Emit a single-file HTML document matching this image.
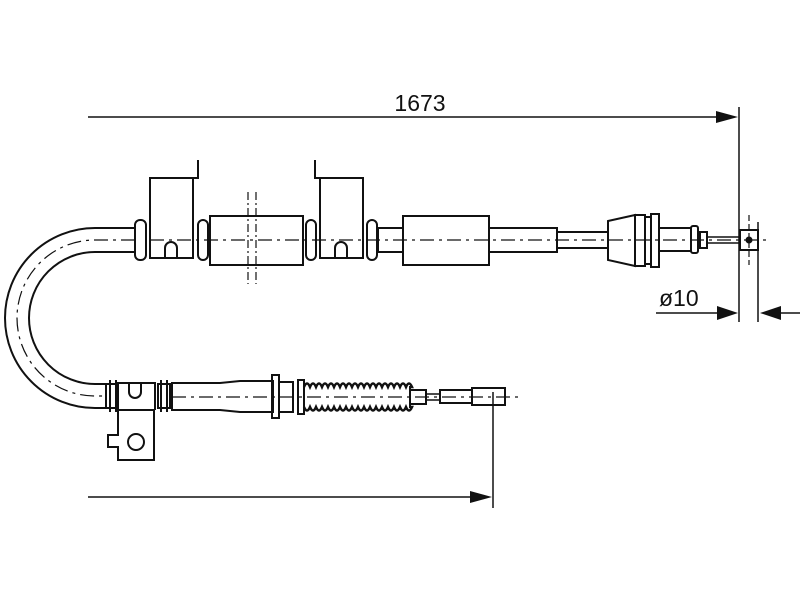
<!DOCTYPE html>
<html><head><style>body{margin:0;background:#fff}svg{display:block}</style></head><body>
<svg width="800" height="600" viewBox="0 0 800 600" xmlns="http://www.w3.org/2000/svg" fill="none" stroke="#111" stroke-width="2">
<line x1="88" y1="117" x2="720" y2="117" stroke-width="1.5"/>
<polygon points="738,117 716,111 716,123" fill="#111" stroke="none"/>
<text x="420" y="111" font-family="Liberation Sans, sans-serif" font-size="23" text-anchor="middle" fill="#111" stroke="none">1673</text>
<line x1="739" y1="107" x2="739" y2="322" stroke-width="1.5"/>
<line x1="758" y1="222" x2="758" y2="322" stroke-width="1.5"/>
<line x1="656" y1="313" x2="720" y2="313" stroke-width="1.5"/>
<polygon points="738,313 717,306 717,320" fill="#111" stroke="none"/>
<line x1="778" y1="313" x2="800" y2="313" stroke-width="1.5"/>
<polygon points="760,313 781,306 781,320" fill="#111" stroke="none"/>
<text x="659" y="306" font-family="Liberation Sans, sans-serif" font-size="23" fill="#111" stroke="none">ø10</text>
<path d="M135,228 H95 A90,90 0 0 0 95,408 H106"/>
<path d="M135,252 H95 A66,66 0 0 0 95,384 H106"/>
<path d="M135,240 H95 A78,78 0 0 0 95,396 H106" stroke-width="1.2" stroke-dasharray="14,5,3,5"/>
<rect x="135" y="220" width="11" height="40" rx="5"/>
<path d="M150,258 V178 H193 V258 Z M193,178 H198 V160"/>
<path d="M165,258 V248 A6,6 0 0 1 177,248 V258"/>
<rect x="198" y="220" width="10" height="40" rx="5"/>
<rect x="210" y="216" width="93" height="49"/>
<line x1="248" y1="192" x2="248" y2="284" stroke-width="1.2" stroke-dasharray="8,3,2,3"/>
<line x1="256" y1="192" x2="256" y2="284" stroke-width="1.2" stroke-dasharray="8,3,2,3"/>
<rect x="306" y="220" width="10" height="40" rx="5"/>
<path d="M320,258 V178 H363 V258 Z M320,178 H315 V160"/>
<path d="M335,258 V248 A6,6 0 0 1 347,248 V258"/>
<rect x="367" y="220" width="10" height="40" rx="5"/>
<rect x="378" y="228" width="25" height="24"/>
<rect x="403" y="216" width="86" height="49"/>
<rect x="489" y="228" width="68" height="24"/>
<rect x="557" y="232" width="51" height="16"/>
<path d="M608,221 L635,215 V266 L608,260 Z"/>
<rect x="635" y="215" width="10" height="51"/>
<rect x="645" y="217" width="6" height="47"/>
<rect x="651" y="214" width="8" height="53"/>
<rect x="659" y="228" width="32" height="23"/>
<rect x="691" y="226" width="7" height="27" rx="2"/>
<rect x="700" y="232" width="7" height="16"/>
<rect x="707" y="237" width="33" height="6" stroke-width="1.5"/>
<rect x="740" y="230" width="18" height="20"/>
<circle cx="749" cy="240" r="2.5" fill="#111"/>
<line x1="749" y1="215" x2="749" y2="265" stroke-width="1.2" stroke-dasharray="6,3"/>
<line x1="150" y1="240" x2="770" y2="240" stroke-width="1.2" stroke-dasharray="14,5,3,5"/>
<rect x="106" y="384" width="12" height="24"/>
<line x1="110" y1="380" x2="110" y2="412"/><line x1="116" y1="380" x2="116" y2="412"/>
<path d="M118,410 V383 H155 V410"/>
<path d="M129,383 V392 A6,6 0 0 0 141,392 V383"/>
<path d="M118,410 H154 V460 H118 V447 H108 V435 H118 Z"/>
<circle cx="136" cy="442" r="8"/>
<rect x="158" y="384" width="12" height="24"/>
<line x1="161" y1="380" x2="161" y2="412"/><line x1="167" y1="380" x2="167" y2="412"/>
<path d="M172,383 H220 L240,381 H273 V412 H240 L220,410 H172 Z"/>
<rect x="272" y="375" width="7" height="43"/>
<rect x="279" y="382" width="14" height="30"/>
<rect x="298" y="380" width="6" height="34"/>
<g stroke-width="2.5">
<path d="M304,387 q3,-7 6,0 q3,-7 6,0 q3,-7 6,0 q3,-7 6,0 q3,-7 6,0 q3,-7 6,0 q3,-7 6,0 q3,-7 6,0 q3,-7 6,0 q3,-7 6,0 q3,-7 6,0 q3,-7 6,0 q3,-7 6,0 q3,-7 6,0 q3,-7 6,0 q3,-7 6,0 q3,-7 6,0 q3,-7 6,0 L410,387"/>
<path d="M304,407 q3,7 6,0 q3,7 6,0 q3,7 6,0 q3,7 6,0 q3,7 6,0 q3,7 6,0 q3,7 6,0 q3,7 6,0 q3,7 6,0 q3,7 6,0 q3,7 6,0 q3,7 6,0 q3,7 6,0 q3,7 6,0 q3,7 6,0 q3,7 6,0 q3,7 6,0 q3,7 6,0 L410,407"/>
</g>
<line x1="304" y1="386" x2="304" y2="408"/><line x1="410" y1="386" x2="410" y2="408"/>
<rect x="410" y="390" width="16" height="14"/>
<rect x="426" y="394" width="14" height="6" stroke-width="1.5"/>
<rect x="440" y="390" width="32" height="13"/>
<rect x="472" y="388" width="33" height="17"/>
<line x1="172" y1="397" x2="520" y2="397" stroke-width="1.2" stroke-dasharray="14,5,3,5"/>
<line x1="493" y1="392" x2="493" y2="508" stroke-width="1.5"/>
<line x1="88" y1="497" x2="472" y2="497" stroke-width="1.5"/>
<polygon points="492,497 470,491 470,503" fill="#111" stroke="none"/>
</svg>
</body></html>
